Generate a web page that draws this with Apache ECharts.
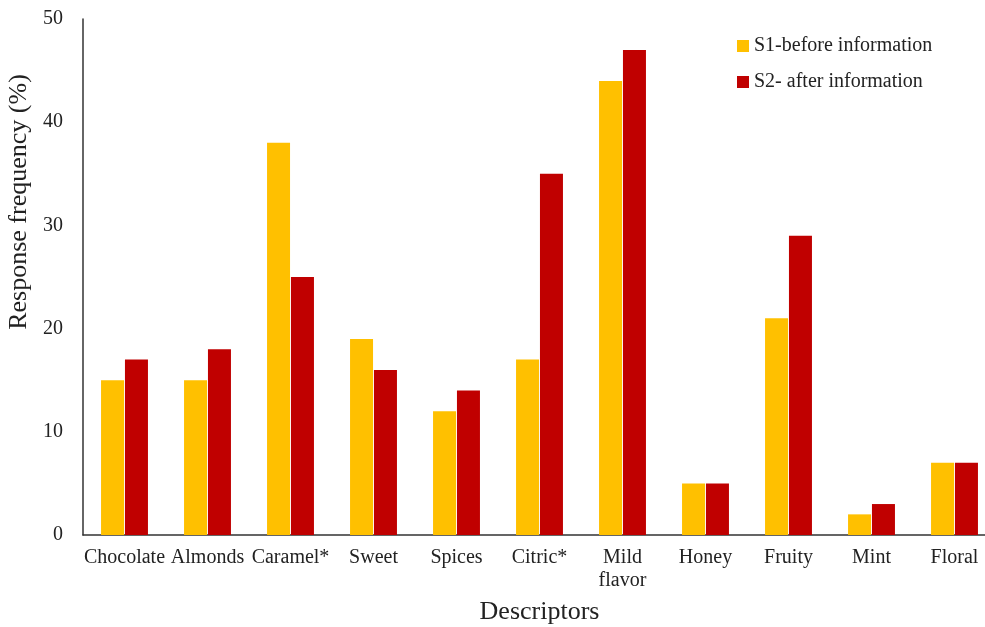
<!DOCTYPE html>
<html><head><meta charset="utf-8">
<script src="https://cdn.jsdelivr.net/npm/echarts@6/dist/echarts.min.js"></script>
<style>html,body{margin:0;padding:0;background:#fff}#c{width:985px;height:627px}</style>
</head><body><div id="c"></div>
<script>
var categories = ['Chocolate','Almonds','Caramel*','Sweet','Spices','Citric*','Mild\nflavor','Honey','Fruity','Mint','Floral'];
var s1Name = 'S1-before information';
var s2Name = 'S2- after information';
var s1Values = [15,15,38,19,12,17,44,5,21,2,7];
var s2Values = [17,18,25,16,14,35,47,5,29,3,7];
var yTicks = {min:0, max:50, interval:10};

var font = 'Liberation Serif';
var chart = echarts.init(document.getElementById('c'));
chart.setOption({
  animation:false,
  textStyle:{fontFamily:font},
  grid:{left:83, top:19, width:913, height:516, containLabel:false, outerBoundsMode:'none'},
  legend:{
    orient:'vertical', left:732, top:31, itemWidth:12, itemHeight:12, itemGap:16,
    icon:'rect',
    textStyle:{fontFamily:font, fontSize:20, color:'#222'},
    data:[s1Name, s2Name]
  },
  xAxis:{
    type:'category', data:categories,
    axisLine:{lineStyle:{color:'#333', width:1.5}},
    axisTick:{show:false},
    axisLabel:{fontFamily:font, fontSize:20, color:'#222', margin:11, lineHeight:23, interval:0},
    name:'Descriptors', nameLocation:'middle', nameGap:64,
    nameTextStyle:{fontFamily:font, fontSize:26, color:'#222'}
  },
  yAxis:{
    type:'value', min:yTicks.min, max:yTicks.max, interval:yTicks.interval,
    splitLine:{show:false},
    axisLine:{show:true, lineStyle:{color:'#333', width:1.5}},
    axisTick:{show:false},
    axisLabel:{fontFamily:font, fontSize:20, color:'#222', margin:20},
    name:'Response frequency (%)', nameLocation:'middle', nameGap:47, nameRotate:90,
    nameTextStyle:{fontFamily:font, fontSize:26, color:'#222', padding:[0,0,0,150]}
  },
  series:[
    {name:s1Name, type:'bar', data:s1Values, barWidth:23, barGap:'4%', itemStyle:{color:'#FFC000'}},
    {name:s2Name, type:'bar', data:s2Values, barWidth:23, barGap:'4%', itemStyle:{color:'#C00000'}}
  ]
});
</script></body></html>
